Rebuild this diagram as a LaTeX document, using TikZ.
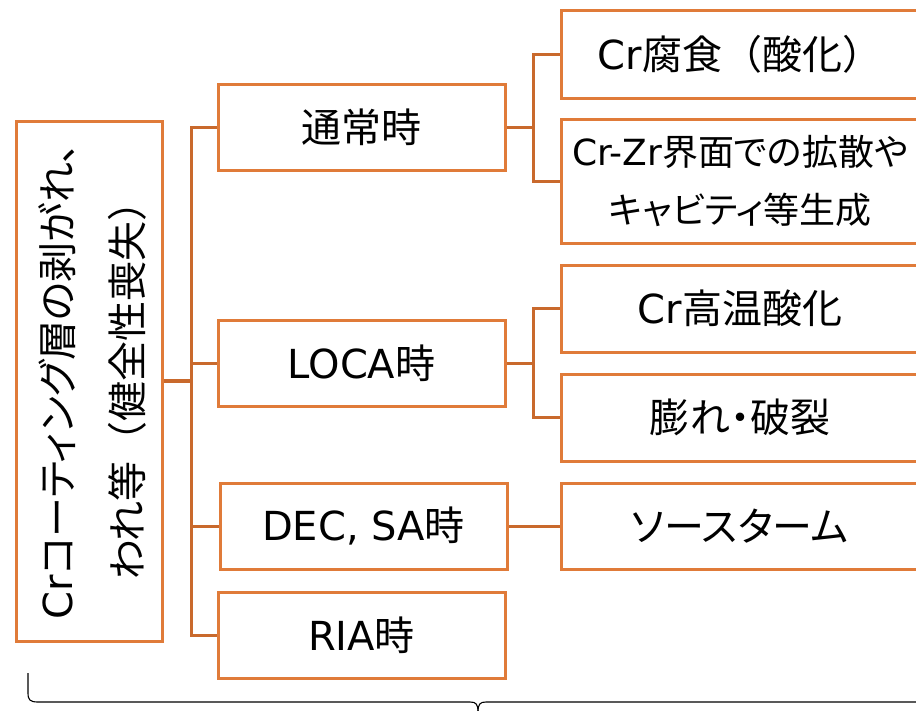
\documentclass[tikz,border=0pt]{standalone}
\usepackage{fontspec}
\setmainfont{Noto Sans CJK JP}[RawFeature=+palt]
\newfontfamily\lat{DejaVu Sans}
\newfontfamily\fw{Noto Sans CJK JP}
\definecolor{boxc}{HTML}{E07B39}
\definecolor{linec}{HTML}{C9692C}
\begin{document}
\begin{tikzpicture}[x=1pt,y=-1pt,
  bx/.style={draw=boxc,line width=3pt,inner sep=0pt,align=center,
    font=\fontsize{40}{58}\selectfont},
  midbox/.style={bx,minimum width=287pt,minimum height=86pt},
  rbox/.style={bx,minimum width=358pt,minimum height=87pt},
  conn/.style={draw=linec,line width=3pt},
  brace/.style={draw=black,line width=1.1pt}]
\useasboundingbox (0,0) rectangle (916,710);
% left box
\node[bx,minimum width=146pt,minimum height=520pt] (L) at (89,381) {};
\node[rotate=90,align=center,font=\fontsize{40}{70}\selectfont] (Lt) at (92,381)
  {{\lat Cr}コーティング層の剥がれ、\\われ等{\fw （}健全性喪失{\fw ）}};
% middle boxes
\node[midbox] (n1) at (361.5,127) {通常時};
\node[midbox] (n2) at (361.5,363) {{\lat LOCA}時};
\node[midbox] (n3) at (363.5,526) {{\lat DEC, SA}時};
\node[midbox] (n4) at (361.5,635) {{\lat RIA}時};
% right boxes
\node[rbox,minimum height=88pt] (r1) at (740,54) {{\lat Cr}腐食{\fw （}酸化{\fw ）}};
\node[rbox,minimum height=124pt,font=\fontsize{36}{58}\selectfont] (r2) at (740,181)
  {{\lat Cr-Zr}界面での拡散や\\キャビティ等生成};
\node[rbox] (r3) at (740,308.5) {{\lat Cr}高温酸化};
\node[rbox] (r4) at (740,417.5) {膨れ・破裂};
\node[rbox,minimum height=86pt] (r5) at (740,526) {ソースターム};
% trunk
\coordinate (tx) at (191,0);
\coordinate (bx) at (533,0);
\draw[conn,line width=3.6pt] (L.east) -- (L.east -| tx);
\draw[conn] (n1.west) -- (n1.west -| tx) |- (n4.west);
\draw[conn] (n2.west) -- (n2.west -| tx);
\draw[conn] (n3.west) -- (n3.west -| tx);
% right branches
\draw[conn] (n1.east) -- (n1.east -| bx);
\draw[conn] (r1.west) -- (r1.west -| bx) |- (r2.west);
\draw[conn] (n2.east) -- (n2.east -| bx);
\draw[conn] (r3.west) -- (r3.west -| bx) |- (r4.west);
\draw[conn] (n3.east) -- (r5.west);
% brace
\draw[brace] (28,673) -- (28,693) .. controls (28,700) and (30,702) .. (38,702)
  -- (470,702) .. controls (476,702) and (478,704) .. (478,712);
\draw[brace] (478,712) .. controls (478,704) and (480,702) .. (486,702) -- (930,702);
\end{tikzpicture}
\end{document}
